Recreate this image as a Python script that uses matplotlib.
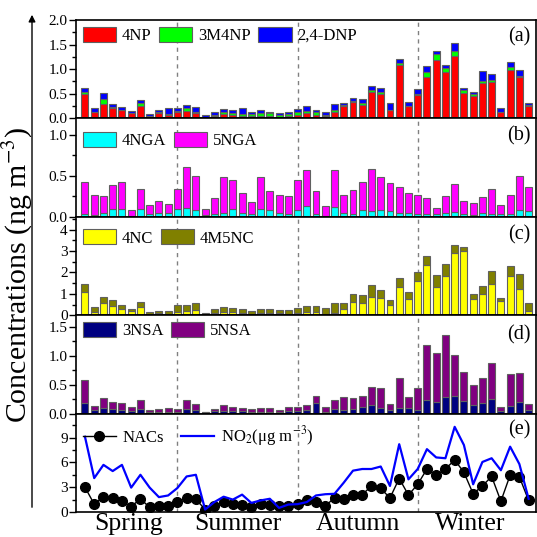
import numpy as np
import matplotlib
matplotlib.use("Agg")
import matplotlib.pyplot as plt
from matplotlib.ticker import MultipleLocator, FixedLocator, FormatStrFormatter

plt.rcParams['font.family'] = ['Liberation Serif', 'DejaVu Serif']
plt.rcParams['mathtext.fontset'] = 'stix'

# ---- data (49 samples) ----
np4 = [0.49,0.12,0.30,0.22,0.17,0.10,0.26,0.03,0.10,0.06,0.14,0.16,0.10,0.01,0.04,0.08,0.07,0.05,0.04,0.05,
       0.05,0.03,0.05,0.06,0.10,0.07,0.04,0.13,0.25,0.33,0.28,0.54,0.49,0.17,1.08,0.25,0.47,0.85,1.18,0.94,
       1.26,0.52,0.46,0.71,0.75,0.13,0.98,0.84,0.26]
m3np4 = [0.05,0.02,0.09,0.02,0.01,0.01,0.05,0.01,0.02,0.02,0.02,0.06,0.04,0.01,0.03,0.05,0.04,0.03,0.04,0.06,
         0.05,0.03,0.04,0.06,0.06,0.05,0.03,0.05,0.03,0.03,0.03,0.04,0.05,0.01,0.04,0.01,0.03,0.10,0.12,0.09,
         0.11,0.05,0.03,0.05,0.04,0.01,0.06,0.02,0.01]
dnp24 = [0.07,0.07,0.12,0.06,0.05,0.04,0.07,0.05,0.05,0.13,0.05,0.05,0.09,0.04,0.05,0.07,0.06,0.14,0.04,0.07,
         0.04,0.04,0.05,0.08,0.09,0.05,0.05,0.12,0.04,0.05,0.08,0.08,0.08,0.14,0.09,0.07,0.09,0.11,0.06,0.06,
         0.17,0.05,0.05,0.20,0.12,0.07,0.11,0.12,0.04]

nga4 = [0.04,0.025,0.05,0.095,0.09,0.015,0.09,0.04,0.05,0.05,0.09,0.11,0.08,0.025,0.03,0.05,0.095,0.05,0.04,0.09,
        0.08,0.045,0.03,0.08,0.13,0.035,0.015,0.115,0.05,0.04,0.08,0.065,0.085,0.065,0.05,0.05,0.03,0.035,0.035,0.05,
        0.055,0.035,0.025,0.045,0.03,0.035,0.03,0.08,0.07]
nga_total = [0.42,0.26,0.25,0.39,0.43,0.08,0.34,0.14,0.19,0.16,0.34,0.61,0.50,0.10,0.23,0.48,0.45,0.29,0.18,0.49,
             0.32,0.27,0.25,0.45,0.57,0.32,0.13,0.57,0.26,0.33,0.43,0.58,0.48,0.41,0.36,0.29,0.26,0.23,0.11,0.25,
             0.40,0.19,0.17,0.24,0.34,0.14,0.26,0.50,0.36]
nga5 = [t - a for t, a in zip(nga_total, nga4)]

nc4 = [1.10,0.17,0.55,0.44,0.31,0.18,0.38,0.05,0.08,0.06,0.15,0.21,0.23,0.03,0.11,0.15,0.14,0.09,0.06,0.09,
       0.09,0.08,0.06,0.12,0.15,0.14,0.06,0.09,0.31,0.61,0.58,0.85,0.81,0.47,1.31,0.78,1.62,2.37,1.34,1.82,
       2.92,3.02,0.76,0.99,1.45,0.67,1.85,1.24,0.20]
nc_total = [1.45,0.37,0.84,0.73,0.49,0.27,0.61,0.17,0.20,0.20,0.46,0.50,0.55,0.12,0.31,0.40,0.34,0.27,0.20,0.27,
            0.27,0.23,0.23,0.32,0.41,0.41,0.32,0.55,0.55,0.99,0.96,1.39,1.19,0.72,1.74,1.08,2.00,2.76,1.88,2.38,
            3.27,3.19,0.98,1.37,2.08,0.82,2.29,1.94,0.56]
m5nc4 = [t - a for t, a in zip(nc_total, nc4)]

nsa3 = [0.19,0.06,0.10,0.08,0.07,0.05,0.08,0.035,0.035,0.035,0.035,0.08,0.065,0.02,0.05,0.05,0.05,0.04,0.035,0.035,
        0.035,0.035,0.045,0.045,0.06,0.18,0.035,0.08,0.065,0.08,0.12,0.15,0.09,0.06,0.09,0.09,0.065,0.23,0.20,0.29,
        0.30,0.22,0.14,0.18,0.25,0.045,0.13,0.20,0.06]
nsa_total = [0.58,0.13,0.27,0.20,0.19,0.11,0.23,0.06,0.08,0.09,0.08,0.24,0.16,0.035,0.08,0.15,0.11,0.10,0.08,0.10,
             0.10,0.065,0.11,0.12,0.14,0.30,0.11,0.23,0.28,0.27,0.30,0.46,0.44,0.17,0.62,0.29,0.44,1.18,1.04,1.35,
             1.01,0.72,0.49,0.62,0.87,0.12,0.69,0.71,0.16]
nsa5 = [t - a for t, a in zip(nsa_total, nsa3)]

nacs = [3.0,0.95,1.85,1.7,1.3,0.65,1.6,0.55,0.7,0.75,1.15,1.75,1.55,0.3,0.7,1.2,1.0,0.85,0.65,1.0,
        0.85,0.75,0.75,1.0,1.45,1.2,0.7,1.75,1.55,2.0,2.1,3.15,2.85,1.7,4.05,2.05,3.35,5.2,4.45,5.2,
        6.3,4.8,2.2,3.15,4.3,1.3,4.45,4.25,1.4]
no2 = [9.1,4.1,5.7,4.95,5.7,2.95,4.5,2.95,1.8,2.0,2.9,4.3,4.5,0.3,1.2,1.85,1.5,2.1,1.1,1.4,
       1.6,0.5,0.9,0.95,1.2,2.0,2.15,2.2,3.55,5.0,5.2,5.2,5.5,3.15,8.2,3.95,5.2,7.6,6.6,6.5,
       10.3,8.1,3.35,6.05,6.5,5.05,7.9,5.8,1.6]

seasons = ['Spring', 'Summer', 'Autumn', 'Winter']
season_pos = [4.7, 16.6, 29.5, 41.7]
season_breaks = [10, 23, 36]

x = np.arange(len(np4))
W = 0.75
EC = '#606060'
LW = 0.8

fig = plt.figure(figsize=(5.37, 5.37), dpi=100)
axes = fig.subplots(5, 1, sharex=True)
fig.subplots_adjust(left=76/537, right=536/537, bottom=1-512/537, top=1-20/537, hspace=0)

def style(ax, ylim, majors, minor, fmt):
    ax.set_ylim(*ylim)
    ax.yaxis.set_major_locator(FixedLocator(majors))
    ax.yaxis.set_minor_locator(MultipleLocator(minor))
    ax.yaxis.set_major_formatter(FormatStrFormatter(fmt))
    ax.tick_params(axis='y', which='major', direction='out', length=5, width=1, labelsize=11, pad=1)
    ax.tick_params(axis='y', which='minor', direction='out', length=3, width=1)
    ax.tick_params(axis='x', which='both', length=0)
    for s in ax.spines.values():
        s.set_linewidth(1.2)
    for b in season_breaks:
        ax.axvline(b, color='#808080', ls=(0, (3, 3)), lw=1, zorder=0)

bk = dict(width=W, edgecolor=EC, linewidth=LW)

def leg(ax, ncol, ytop):
    ax.legend(ncol=ncol, loc='upper left', bbox_to_anchor=(0.0, ytop), frameon=False, fontsize=12,
              handlelength=2.0, handleheight=1.0, borderaxespad=0.0, columnspacing=0.45,
              handletextpad=0.35)

def plabel(ax, s, y):
    ax.text(0.988, y, s, transform=ax.transAxes, ha='right', va='center', fontsize=14.5)

# (a)
ax = axes[0]
b1 = np.array(np4); b2 = np.array(m3np4); b3 = np.array(dnp24)
ax.bar(x, b1, color='#ff0000', label='4NP', **bk)
ax.bar(x, b2, bottom=b1, color='#00ff00', label='3M4NP', **bk)
ax.bar(x, b3, bottom=b1 + b2, color='#0000ff', label='2,4-DNP', **bk)
style(ax, (0, 2.0), [0, 0.5, 1.0, 1.5, 2.0], 0.25, '%.1f')
leg(ax, 3, 1.0)
plabel(ax, '(a)', 0.83)

# (b)
ax = axes[1]
ax.bar(x, nga4, color='#00ffff', label='4NGA', **bk)
ax.bar(x, nga5, bottom=nga4, color='#ff00ff', label='5NGA', **bk)
style(ax, (0, 1.2), [0, 0.5, 1.0], 0.25, '%.1f')
leg(ax, 2, 0.93)
plabel(ax, '(b)', 0.82)

# (c)
ax = axes[2]
ax.bar(x, nc4, color='#ffff00', label='4NC', **bk)
ax.bar(x, m5nc4, bottom=nc4, color='#808000', label='4M5NC', **bk)
style(ax, (0, 4.6), [0, 1, 2, 3, 4], 0.5, '%d')
leg(ax, 2, 0.94)
plabel(ax, '(c)', 0.815)

# (d)
ax = axes[3]
ax.bar(x, nsa3, color='#000080', label='3NSA', **bk)
ax.bar(x, nsa5, bottom=nsa3, color='#800080', label='5NSA', **bk)
style(ax, (0, 1.7), [0, 0.5, 1.0, 1.5], 0.25, '%.1f')
leg(ax, 2, 1.0)
plabel(ax, '(d)', 0.80)

# (e)
ax = axes[4]
ax.plot(x, nacs, '-o', color='black', lw=1, ms=7, label='NACs')
ax.plot(x, no2, '-', color='#0000ff', lw=1.6, label='NO$_2$(μg m$^{-3}$)')
style(ax, (0, 11.9), [0, 3, 6, 9], 1.5, '%d')
ax.legend(ncol=2, loc='upper left', bbox_to_anchor=(0.0, 0.96), frameon=False, fontsize=12,
          handlelength=2.0, borderaxespad=0.0, columnspacing=1.0, handletextpad=0.4)
plabel(ax, '(e)', 0.83)

ax.set_xlim(-0.97, 48.8)
ax.set_xticks(season_pos)
ax.set_xticklabels(seasons, fontsize=18.5)
ax.tick_params(axis='x', pad=1)

fig.text(18/537, 1 - 275/537, 'Concentrations (ng m$^{-3}$)', rotation=90, ha='center', va='center',
         fontsize=21.5)
fig.add_artist(matplotlib.patches.FancyArrowPatch((32/537, 1-510/537), (32/537, 1-12/537),
               transform=fig.transFigure, arrowstyle='-|>', mutation_scale=10, lw=1, color='black'))

fig.savefig('out.png', dpi=100)
